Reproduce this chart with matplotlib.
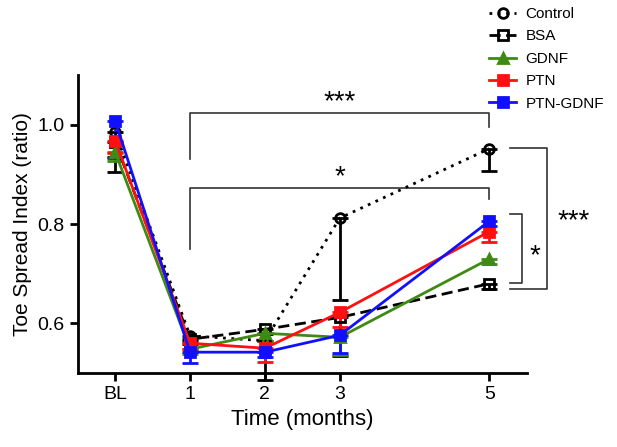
import numpy as np
import matplotlib.pyplot as plt
from matplotlib.lines import Line2D

plt.rcParams['font.family'] = ['Liberation Sans', 'DejaVu Sans']

x_pos = [0, 1, 2, 3, 5]
x_labels = ['BL', '1', '2', '3', '5']

control = [0.985, 0.575, 0.565, 0.812, 0.952]
control_err = [0.08, 0.01, 0.08, 0.164, 0.045]
bsa = [0.965, 0.568, 0.588, 0.612, 0.68]
bsa_err = [0.03, 0.01, 0.01, 0.078, 0.01]
gdnf = [0.945, 0.548, 0.58, 0.572, 0.73]
gdnf_err = [0.018, 0.01, 0.015, 0.035, 0.01]
ptn = [0.968, 0.56, 0.55, 0.622, 0.785]
ptn_err = [0.025, 0.012, 0.027, 0.03, 0.021]
ptn_gdnf = [1.008, 0.542, 0.542, 0.576, 0.806]
ptn_gdnf_err = [0.075, 0.022, 0.01, 0.035, 0.01]

series = [
    ('Control', control, control_err, 'black', 'o', 'none', (0, (1, 2))),
    ('BSA', bsa, bsa_err, 'black', 's', 'none', (0, (4, 2))),
    ('GDNF', gdnf, gdnf_err, '#3f8a12', '^', 'full', '-'),
    ('PTN', ptn, ptn_err, '#ff1010', 's', 'full', '-'),
    ('PTN-GDNF', ptn_gdnf, ptn_gdnf_err, '#1010ff', 's', 'full', '-'),
]

fig = plt.figure(figsize=(6.17, 4.47), dpi=100, facecolor='white')
ax = fig.add_axes([0.126, 0.1655, 0.728, 0.6665])

handles = []
for name, vals, err, col, mk, fill, ls in series:
    err = np.array(err)
    ax.errorbar(x_pos, vals, yerr=[err, np.zeros_like(err)], color=col,
                marker=mk, fillstyle=fill, markersize=7, markeredgewidth=2,
                linestyle=ls, linewidth=2, capsize=6, capthick=2,
                elinewidth=2, clip_on=False)
    handles.append(Line2D([], [], color=col, marker=mk, fillstyle=fill,
                          markersize=7, markeredgewidth=2, linestyle=ls,
                          linewidth=2, label=name))

ax.set_xlim(-0.5, 5.5)
ax.set_ylim(0.5, 1.1)
ax.set_xticks(x_pos)
ax.set_xticklabels(x_labels)
ax.set_yticks([0.6, 0.8, 1.0])
ax.set_yticklabels(['0.6', '0.8', '1.0'])
ax.tick_params(labelsize=14, width=2, length=6)
for s in ['top', 'right']:
    ax.spines[s].set_visible(False)
for s in ['left', 'bottom']:
    ax.spines[s].set_linewidth(2)
ax.set_xlabel('Time (months)', fontsize=16)
ax.set_ylabel('Toe Spread Index (ratio)', fontsize=15)

# significance brackets
bk = dict(color='#333333', linewidth=1.2, clip_on=False)
ax.plot([1, 1, 5, 5], [0.931, 1.024, 1.024, 0.996], **bk)
ax.text(3, 1.045, '***', ha='center', va='center', fontsize=20)
ax.plot([1, 1, 5, 5], [0.75, 0.873, 0.873, 0.85], **bk)
ax.text(3, 0.895, '*', ha='center', va='center', fontsize=20)
ax.plot([5.27, 5.77, 5.77, 5.27], [0.954, 0.954, 0.669, 0.669], **bk)
ax.text(6.12, 0.805, '***', ha='center', va='center', fontsize=20)
ax.plot([5.27, 5.44, 5.44, 5.27], [0.82, 0.82, 0.681, 0.681], **bk)
ax.text(5.6, 0.735, '*', ha='center', va='center', fontsize=20)

fig.legend(handles=handles, loc='upper left', bbox_to_anchor=(0.77, 1.015),
           frameon=False, fontsize=11, handlelength=1.8, handletextpad=0.6,
           labelspacing=0.55)

fig.savefig('out.png', dpi=100, facecolor='white')
